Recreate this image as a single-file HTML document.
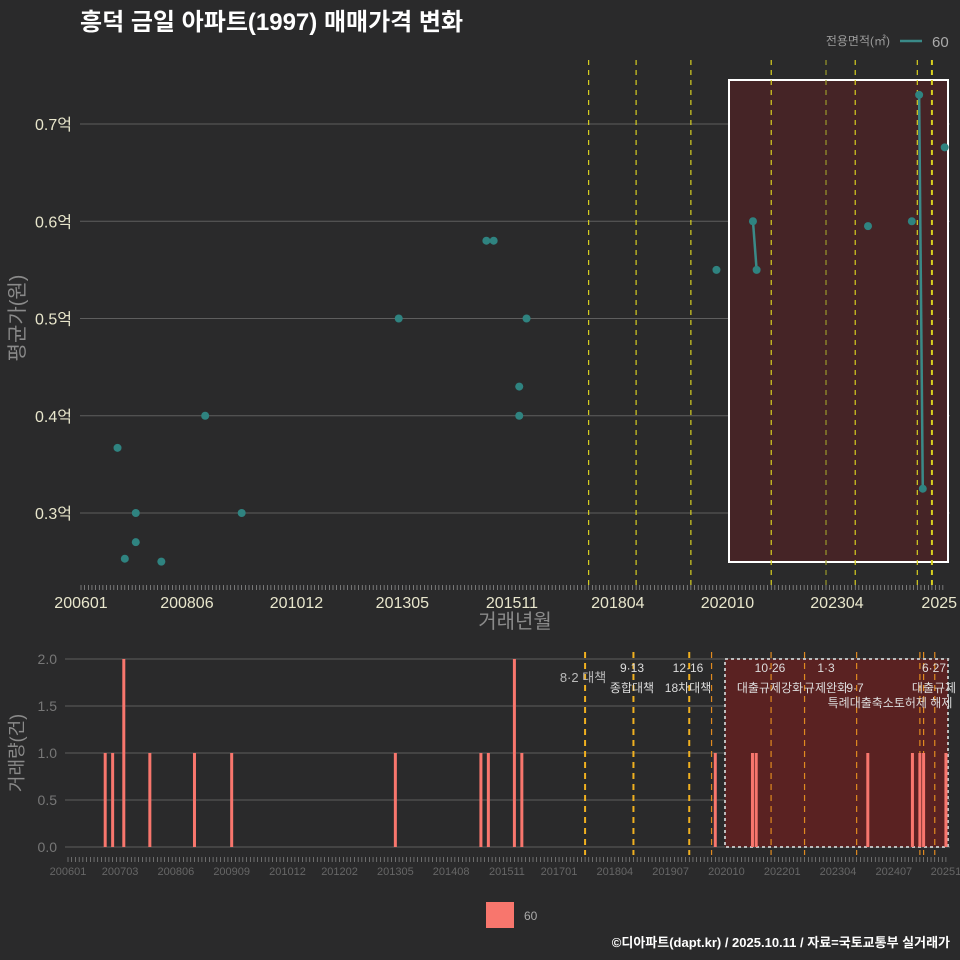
<!DOCTYPE html>
<html><head><meta charset="utf-8">
<style>
body{margin:0;background:#2a2a2b;width:960px;height:960px;overflow:hidden;font-family:"Liberation Sans","Noto Sans CJK KR",sans-serif;}
svg{display:block}
svg text{font-family:"Liberation Sans","Noto Sans CJK KR",sans-serif;}
</style></head>
<body>
<svg id="chart" width="960" height="960" xmlns="http://www.w3.org/2000/svg">
<rect width="960" height="960" fill="#2a2a2b"/>
<text x="80" y="30" fill="#ffffff" font-size="24" font-weight="bold">흥덕 금일 아파트(1997) 매매가격 변화</text>
<g>
<text x="890" y="45" fill="#9a9a9a" font-size="12" text-anchor="end">전용면적(㎡)</text>
<line x1="900" y1="41" x2="922" y2="41" stroke="#3a8a88" stroke-width="2.5"/>
<text x="932" y="47" fill="#aaaaaa" font-size="15">60</text>
</g>
<g id="gtop"></g>
<g id="gbot"></g>
<g>
<rect x="486" y="902" width="28" height="26" fill="#f8766d"/>
<text x="524" y="920" fill="#aaaaaa" font-size="12">60</text>
</g>
<text x="950" y="947" fill="#ffffff" font-size="13" font-weight="bold" text-anchor="end">©디아파트(dapt.kr) / 2025.10.11 / 자료=국토교통부 실거래가</text>
</svg>
<script>
// month index from 2006-01
const priceMonths=[10,12,15,15,22,34,44,87,111,113,120,120,122,174,184,185,215.5,227.5,229.5,230.5,236.5];
const priceValues=[0.367,0.253,0.30,0.27,0.25,0.40,0.30,0.50,0.58,0.58,0.43,0.40,0.50,0.55,0.60,0.55,0.595,0.60,0.73,0.325,0.676];
const yTicks=[0.3,0.4,0.5,0.6,0.7];
const yTickLabels=["0.3억","0.4억","0.5억","0.6억","0.7억"];
const xTickMonths=[0,29,59,88,118,147,177,207,235];
const xTickLabels=["200601","200806","201012","201305","201511","201804","202010","202304","2025"];
const policyMonths=[139,152,167,189,204,212,229,233];
const volMonths=[10,12,15,22,34,44,88,111,113,120,122,174,184,185,215,227,229,230,236];
const volCounts=[1,1,2,1,1,1,1,1,1,2,1,1,1,1,1,1,1,1,1];
const volTicks=[0,0.5,1,1.5,2];
const volTickLabels=["0.0","0.5","1.0","1.5","2.0"];
const botTickMonths=[0,14,29,44,59,73,88,103,118,132,147,162,177,192,207,222,236];
const botTickLabels=["200601","200703","200806","200909","201012","201202","201305","201408","201511","201701","201804","201907","202010","202201","202304","202407","20251"];
const policyLabels=[["8·2 대책",""],["9·13","종합대책"],["12·16","18차대책"],["10·26","대출규제강화"],["1·3","규제완화"],["","9·7"],["",""],["6·27","대출규제"]];
const NS="http://www.w3.org/2000/svg";
function mk(p,t,a){const e=document.createElementNS(NS,t);for(const k in a)e.setAttribute(k,a[k]);p.appendChild(e);return e;}
const xT=m=>81+3.652*m, yT=v=>513-(v-0.3)*972.5;
const xB=m=>68+3.72*m, yB=v=>847-v*94;
const gTop=document.getElementById('gtop'), gBot=document.getElementById('gbot');
yTicks.forEach((v,i)=>{
 const l=mk(gTop,'line',{x1:80,x2:950,y1:yT(v),y2:yT(v),stroke:'#5e5e5e','stroke-width':1});
 
 
 const t=mk(gTop,'text',{x:72,y:yT(v)+6,fill:'#e8e6cc','font-size':16,'text-anchor':'end'});t.textContent=yTickLabels[i];
 
 
});
const hb=mk(gTop,'rect',{x:729,y:80,width:219,height:482,fill:'#452426',stroke:'#ffffff','stroke-width':2});


policyMonths.forEach((m,i)=>{
 const l=mk(gTop,'line',{x1:xT(m),x2:xT(m),y1:60,y2:590,stroke:i==4?'#9a9a2a':'#d8d020','stroke-width':i==7?2:1.2,'stroke-dasharray':'5,5'});
 
 
});
for(let m=0;m<=236;m++){mk(gTop,'line',{x1:xT(m),x2:xT(m),y1:585,y2:590,stroke:'#aaaaaa','stroke-width':0.6});}
xTickMonths.forEach((m,i)=>{
 const t=mk(gTop,'text',{x:xT(m),y:608,fill:'#e8e6cc','font-size':16,'text-anchor':'middle'});t.textContent=xTickLabels[i];
 
 
});
const xt=mk(gTop,'text',{x:515,y:628,fill:'#8a8a8a','font-size':20,'text-anchor':'middle'});xt.textContent='거래년월';


const yt=mk(gTop,'text',{x:0,y:0,fill:'#8a8a8a','font-size':20,'text-anchor':'middle',transform:'translate(24,318) rotate(-90)'});yt.textContent='평균가(원)';


for(let i=1;i<priceMonths.length;i++){
 if(priceMonths[i]-priceMonths[i-1]<=1.01&&priceMonths[i]!==priceMonths[i-1]&&priceMonths[i]>170){
  const l=mk(gTop,'line',{x1:xT(priceMonths[i-1]),y1:yT(priceValues[i-1]),x2:xT(priceMonths[i]),y2:yT(priceValues[i]),stroke:'#3a8a88','stroke-width':2.5});
  
  
 }
}
priceMonths.forEach((m,i)=>{
 const c=mk(gTop,'circle',{cx:xT(m),cy:yT(priceValues[i]),r:4,fill:'#2f8380'});
 
 
});
volTicks.forEach((v,i)=>{
 const l=mk(gBot,'line',{x1:65,x2:950,y1:yB(v),y2:yB(v),stroke:'#5e5e5e','stroke-width':1});
 
 
 const t=mk(gBot,'text',{x:57,y:yB(v)+5,fill:'#777777','font-size':14,'text-anchor':'end'});t.textContent=volTickLabels[i];
 
 
});
const hb2=mk(gBot,'rect',{x:725,y:659,width:223,height:188,fill:'#5a2222',stroke:'#bbbbbb','stroke-width':2,'stroke-dasharray':'3,3'});


const bpol=[139,152,167,173,189,198,212,229,230,233];
bpol.forEach((m,i)=>{
 const l=mk(gBot,'line',{x1:xB(m),x2:xB(m),y1:652,y2:855,stroke:i>=3?'#e08a20':'#f0b020','stroke-width':i<3?2:1.2,'stroke-dasharray':'6,5'});
 
 
});
volMonths.forEach((m,i)=>{
 const b=mk(gBot,'rect',{x:xB(m)-1.5,y:yB(volCounts[i]),width:3,height:volCounts[i]*94,fill:'#f8766d'});
 
 
});
const lp=[[583,678,683],[632,668,688],[688,668,688],[770,668,688],[826,668,688],[855,688,703],[0,0,0],[934,668,688]];
policyLabels.forEach((p,i)=>{
 if(!p[0]&&!p[1])return;
 const [x,y1,y2]=lp[i];
 if(i===0){const t=mk(gBot,'text',{x:x,y:y1+4,fill:'#bbbbbb','font-size':13,'text-anchor':'middle'});t.textContent=p[0];return;}
 if(i===5){const t=mk(gBot,'text',{x:x,y:y1+4,fill:'#dddddd','font-size':12,'text-anchor':'middle'});t.textContent=p[1];
  const t2=mk(gBot,'text',{x:890,y:y2+4,fill:'#dddddd','font-size':12,'text-anchor':'middle'});t2.textContent='특례대출축소토허제 해제';return;}
 const a=mk(gBot,'text',{x:x,y:y1+4,fill:'#dddddd','font-size':12,'text-anchor':'middle'});a.textContent=p[0];
 
 
 const b=mk(gBot,'text',{x:x,y:y2+4,fill:'#dddddd','font-size':12,'text-anchor':'middle'});b.textContent=p[1];
 
 
});
for(let m=0;m<=236;m++){mk(gBot,'line',{x1:xB(m),x2:xB(m),y1:857,y2:862,stroke:'#999999','stroke-width':0.6});}
botTickMonths.forEach((m,i)=>{
 const t=mk(gBot,'text',{x:xB(m),y:875,fill:'#666666','font-size':11,'text-anchor':'middle'});t.textContent=botTickLabels[i];
 
 
});
const vt=mk(gBot,'text',{x:0,y:0,fill:'#8a8a8a','font-size':18,'text-anchor':'middle',transform:'translate(23,753) rotate(-90)'});vt.textContent='거래량(건)';


</script>
</body></html>
